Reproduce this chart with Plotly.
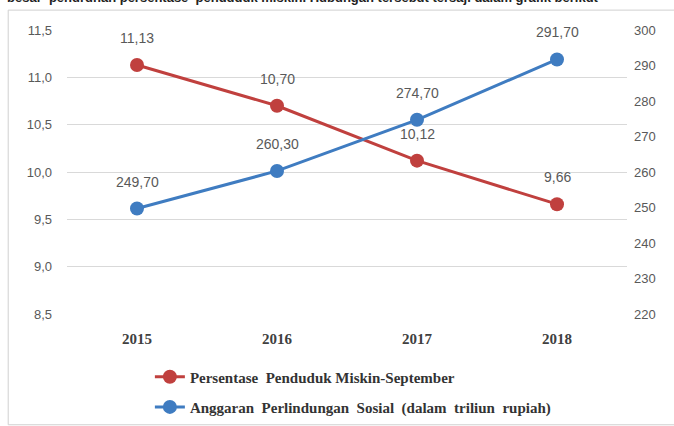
import plotly.graph_objects as go

# Data
years = ["2015", "2016", "2017", "2018"]
persen_miskin = [11.13, 10.70, 10.12, 9.66]
anggaran_perlinsos = [249.70, 260.30, 274.70, 291.70]
left_ticks = [8.5, 9.0, 9.5, 10.0, 10.5, 11.0, 11.5]
right_ticks = [220, 230, 240, 250, 260, 270, 280, 290, 300]

RED = "#C0403E"
BLUE = "#3F7CC1"
LABEL_GRAY = "#595959"


def fmt(v):
    return f"{v:.2f}".replace(".", ",")


fig = go.Figure()

fig.add_trace(go.Scatter(
    x=years, y=persen_miskin, mode="lines+markers",
    name="Persentase  Penduduk Miskin-September",
    line=dict(color=RED, width=3),
    marker=dict(color=RED, size=14),
    legend="legend",
))
fig.add_trace(go.Scatter(
    x=years, y=anggaran_perlinsos, mode="lines+markers",
    name="Anggaran  Perlindungan  Sosial  (dalam  triliun  rupiah)",
    line=dict(color=BLUE, width=3),
    marker=dict(color=BLUE, size=14),
    yaxis="y2",
    legend="legend2",
))

label_font = dict(family="Liberation Sans", size=14, color=LABEL_GRAY)
annotations = []
# value labels above each point (category index on the x axis)
for i, v in enumerate(persen_miskin):
    annotations.append(dict(x=i, y=v, xref="x", yref="y", text=fmt(v),
                            showarrow=False, yshift=27, font=label_font))
for i, v in enumerate(anggaran_perlinsos):
    annotations.append(dict(x=i, y=v, xref="x", yref="y2", text=fmt(v),
                            showarrow=False, yshift=27, font=label_font))

# Sentence of the surrounding document, cut by the top edge
annotations.append(dict(
    x=-0.11, y=1.115, xref="paper", yref="paper", xanchor="left", yanchor="middle",
    text="<b>besar  penurunan persentase  penduduk miskin. Hubungan tersebut tersaji dalam grafik berikut</b>",
    showarrow=False, font=dict(family="Liberation Sans", size=13, color="#222222"),
))

legend_font = dict(family="Liberation Serif", size=15, color="#333333", weight="bold")

fig.update_layout(
    width=674, height=426,
    margin=dict(l=67, r=47, t=30, b=112, autoexpand=False),
    paper_bgcolor="white", plot_bgcolor="white",
    separators=",.",
    showlegend=True,
    annotations=annotations,
    xaxis=dict(
        type="category", range=[-0.5, 3.5],
        showgrid=False, showline=False, zeroline=False, ticks="",
        ticklabelstandoff=14,
        tickfont=dict(family="Liberation Serif", size=15, color="#404040", weight="bold"),
    ),
    yaxis=dict(
        range=[8.5, 11.5], tickvals=left_ticks, tickformat=".1f",
        showgrid=True, gridcolor="#D9D9D9", gridwidth=1,
        zeroline=False, showline=False, ticks="", ticklabelstandoff=14,
        tickfont=dict(family="Liberation Sans", size=13, color=LABEL_GRAY),
    ),
    yaxis2=dict(
        range=[220, 300], tickvals=right_ticks, overlaying="y", side="right",
        showgrid=False, zeroline=False, showline=False, ticks="",
        ticklabelstandoff=6,
        tickfont=dict(family="Liberation Sans", size=13, color=LABEL_GRAY),
    ),
    legend=dict(
        x=0.148, y=-0.222, xanchor="left", yanchor="middle",
        bgcolor="rgba(0,0,0,0)", font=legend_font,
    ),
    legend2=dict(
        x=0.148, y=-0.328, xanchor="left", yanchor="middle",
        bgcolor="rgba(0,0,0,0)", font=legend_font,
    ),
    shapes=[dict(
        type="rect", xref="paper", yref="paper",
        x0=-0.105, x1=1.1, y0=-0.39, y1=1.07,
        line=dict(color="#D0D0D0", width=1), fillcolor="rgba(0,0,0,0)",
        layer="below",
    )],
)

fig.write_html("out.html")
